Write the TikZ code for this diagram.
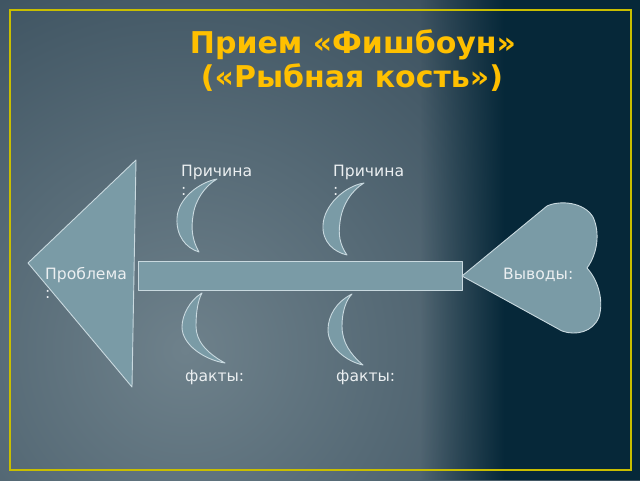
\documentclass[tikz,border=0pt]{standalone}
\usepackage{fontspec}
\setmainfont{DejaVu Sans}
\usetikzlibrary{fadings}
\definecolor{bgdark}{HTML}{062839}
\definecolor{bgmid}{HTML}{2F4554}
\definecolor{bglight}{HTML}{6E818B}
\definecolor{frameyel}{HTML}{C8BE00}
\definecolor{shapefill}{HTML}{7A9BA6}
\definecolor{shapeline}{HTML}{C9D9DF}
\definecolor{txt}{HTML}{EBEFF1}
\definecolor{titlecol}{HTML}{FFC000}
\tikzfading[name=darkin, left color=transparent!100, right color=transparent!0]
\tikzset{
  fishpart/.style={fill=shapefill, draw=shapeline, line width=0.9pt, line join=round},
  lbl/.style={anchor=base west, inner sep=0pt, text=txt, font=\fontsize{15.6}{19}\selectfont, align=left},
  ttl/.style={anchor=base, inner sep=0pt, text=titlecol, font=\fontsize{30}{34}\selectfont\bfseries}
}
\begin{document}
\begin{tikzpicture}[x=1pt,y=-1pt]
\useasboundingbox (0,0) rectangle (640,480);
% background
\fill[bgmid] (0,0) rectangle (640,480);
\begin{scope}
  \clip (0,0) rectangle (640,480);
  \shade[inner color=bglight, outer color=bgmid] (185,350) circle (540);
  \fill[bgdark, path fading=darkin] (420,0) rectangle (505,480);
  \fill[bgdark] (504,0) rectangle (640,480);
\end{scope}
% frame
\draw[frameyel, line width=1.6pt] (10,10) rectangle (631,470);
% title
\node[ttl] (t1) at (353,53) {Прием «Фишбоун»};
\node[ttl] (t2) at (352,87) {(«Рыбная кость»)};
% head triangle
\draw[fishpart] (136,160) -- (28,263) -- (132,387) -- cycle;
% spine
\draw[fishpart] (138,261) rectangle (462,290);
% heart tail
\draw[fishpart] (462,276) -- (547,206) .. controls (560,200) and (584,202) .. (593,217)
  .. controls (600,232) and (598,253) .. (587,268)
  .. controls (598,280) and (604,300) .. (599,317)
  .. controls (593,332) and (576,336) .. (562,331) -- cycle;
% upper crescents
\draw[fishpart] (217,179) .. controls (200,182) and (178,198) .. (177,218)
  .. controls (176,236) and (186,248) .. (199,252)
  .. controls (192,240) and (191,228) .. (193,216)
  .. controls (195,200) and (205,186) .. (217,179) -- cycle;
\draw[fishpart] (364,183) .. controls (345,186) and (324,205) .. (323,225)
  .. controls (322,242) and (334,252) .. (347,255)
  .. controls (340,245) and (338,235) .. (340,222)
  .. controls (342,205) and (352,190) .. (364,183) -- cycle;
% lower crescents
\draw[fishpart] (202,293) .. controls (190,300) and (182,315) .. (182,327)
  .. controls (182,345) and (205,360) .. (225,363)
  .. controls (205,352) and (196,340) .. (196,326)
  .. controls (196,312) and (198,300) .. (202,293) -- cycle;
\draw[fishpart] (352,294) .. controls (336,302) and (328,316) .. (328,330)
  .. controls (328,348) and (348,362) .. (363,365)
  .. controls (350,354) and (342,342) .. (342,326)
  .. controls (342,312) and (346,300) .. (352,294) -- cycle;
% labels
\node[lbl] (c1) at (181,195) {Причина\\:};
\node[lbl] (c2) at (333,195) {Причина\\:};
\node[lbl] (pr) at (45,298) {Проблема\\:};
\node[lbl] (vy) at (503,279) {Выводы:};
\node[lbl] (f1) at (185,381) {факты:};
\node[lbl] (f2) at (336,381) {факты:};
\end{tikzpicture}
\end{document}
